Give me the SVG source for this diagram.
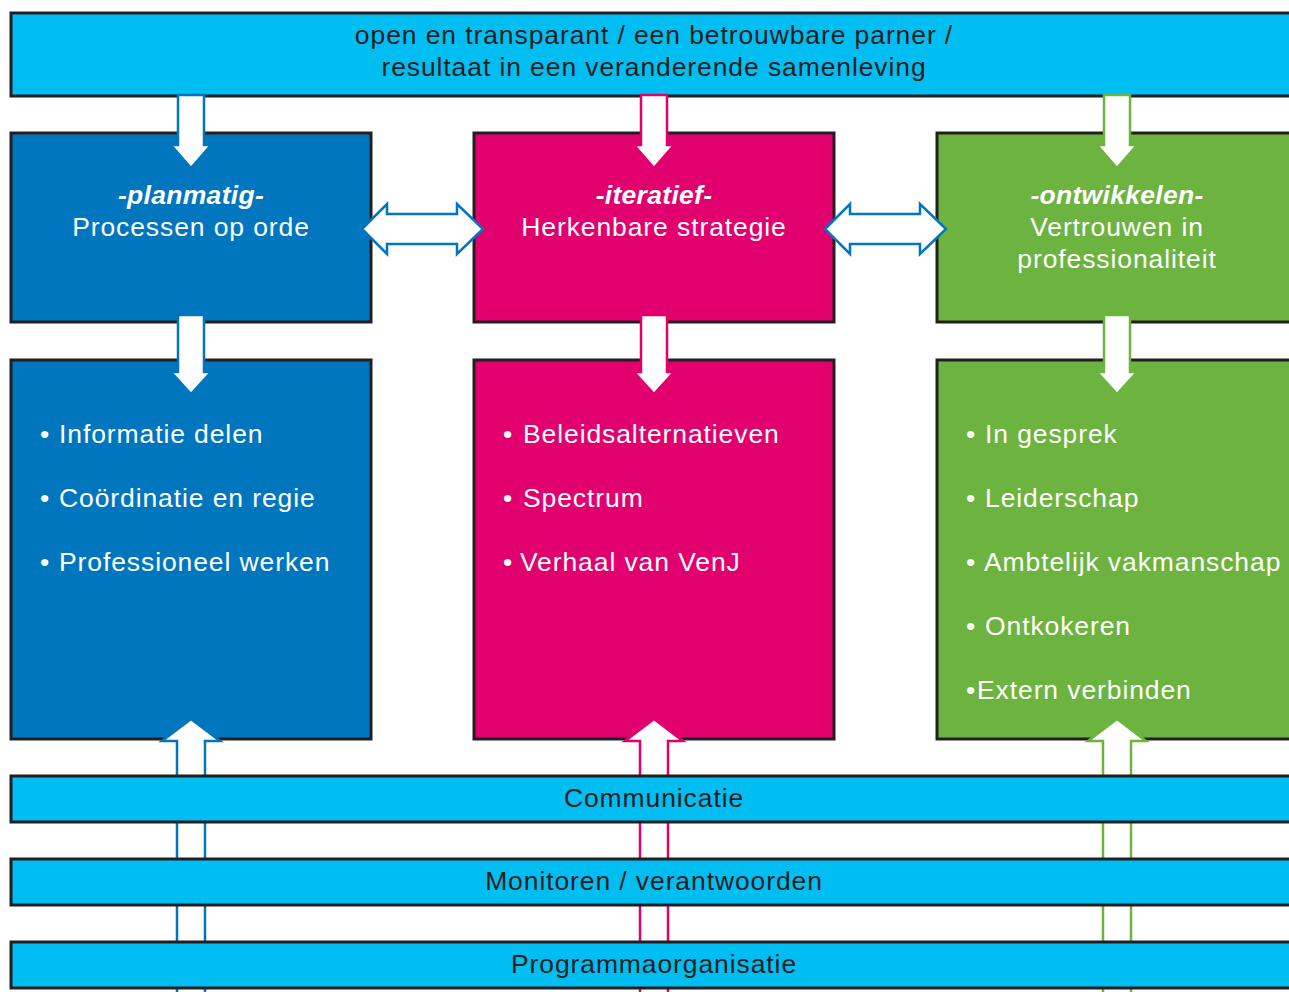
<svg xmlns="http://www.w3.org/2000/svg" width="1289" height="992" viewBox="0 0 1289 992">
<style>
.box{stroke:#231f20;stroke-width:3}
.cyan{fill:#00bdf2}
.blue{fill:#0076be}
.pink{fill:#e2006f}
.green{fill:#6db33f}
.t{font-family:"Liberation Sans",Arial,sans-serif;font-size:26.5px;letter-spacing:0.9px}
.dark{fill:#231f20}
.w{fill:#ffffff}
.c{text-anchor:middle}
.bi{font-weight:bold;font-style:italic;letter-spacing:0.3px}
.arr{fill:#ffffff;stroke-width:2.5;stroke-linejoin:miter}
</style>
<rect width="1289" height="992" fill="#ffffff"/>
<g id="top">
<rect class="box cyan" x="11" y="13" width="1290" height="83"/>
<text class="t dark c" x="654" y="44">open en transparant / een betrouwbare parner /</text>
<text class="t dark c" x="654" y="76">resultaat in een veranderende samenleving</text>
</g>
<g id="planmatig">
<rect class="box blue" x="11" y="133" width="360" height="189"/>
<text class="t w c bi" x="191" y="204">-planmatig-</text>
<text class="t w c" x="191" y="236">Processen op orde</text>
</g>
<g id="iteratief">
<rect class="box pink" x="474" y="133" width="360" height="189"/>
<text class="t w c bi" x="654" y="204">-iteratief-</text>
<text class="t w c" x="654" y="236">Herkenbare strategie</text>
</g>
<g id="ontwikkelen">
<rect class="box green" x="937" y="133" width="360" height="189"/>
<text class="t w c bi" x="1117" y="204">-ontwikkelen-</text>
<text class="t w c" x="1117" y="236">Vertrouwen in</text>
<text class="t w c" x="1117" y="268">professionaliteit</text>
</g>
<g id="planmatig-list">
<rect class="box blue" x="11" y="360" width="360" height="379"/>
<text class="t w"><tspan x="40" y="443">•</tspan><tspan x="59" y="443">Informatie delen</tspan></text>
<text class="t w"><tspan x="40" y="507">•</tspan><tspan x="59" y="507">Coördinatie en regie</tspan></text>
<text class="t w"><tspan x="40" y="571">•</tspan><tspan x="59" y="571">Professioneel werken</tspan></text>
</g>
<g id="iteratief-list">
<rect class="box pink" x="474" y="360" width="360" height="379"/>
<text class="t w"><tspan x="503" y="443">•</tspan><tspan x="523" y="443">Beleidsalternatieven</tspan></text>
<text class="t w"><tspan x="503" y="507">•</tspan><tspan x="523" y="507">Spectrum</tspan></text>
<text class="t w"><tspan x="503" y="571">•</tspan><tspan x="520" y="571">Verhaal van VenJ</tspan></text>
</g>
<g id="ontwikkelen-list">
<rect class="box green" x="937" y="360" width="360" height="379"/>
<text class="t w"><tspan x="966" y="443">•</tspan><tspan x="985" y="443">In gesprek</tspan></text>
<text class="t w"><tspan x="966" y="507">•</tspan><tspan x="985" y="507">Leiderschap</tspan></text>
<text class="t w"><tspan x="966" y="571">•</tspan><tspan x="984" y="571">Ambtelijk vakmanschap</tspan></text>
<text class="t w"><tspan x="966" y="635">•</tspan><tspan x="985" y="635">Ontkokeren</tspan></text>
<text class="t w"><tspan x="966" y="699">•</tspan><tspan x="977" y="699">Extern verbinden</tspan></text>
</g>
<g id="connectors">
<polygon class="arr" stroke="#0076be" points="178,95 204,95 204,145 211,145 191,168 171,145 178,145"/>
<polygon class="arr" stroke="#e2006f" points="641,95 667,95 667,145 674,145 654,168 634,145 641,145"/>
<polygon class="arr" stroke="#6db33f" points="1104,95 1130,95 1130,145 1137,145 1117,168 1097,145 1104,145"/>
<polygon class="arr" stroke="#0076be" points="178,315 204,315 204,372 211,372 191,394 171,372 178,372"/>
<polygon class="arr" stroke="#e2006f" points="641,315 667,315 667,372 674,372 654,394 634,372 641,372"/>
<polygon class="arr" stroke="#6db33f" points="1104,315 1130,315 1130,372 1137,372 1117,394 1097,372 1104,372"/>
<polygon class="arr" stroke="#0076be" points="362,229 387,204 387,214 457,214 457,204 483,229 457,254 457,244 387,244 387,254"/>
<polygon class="arr" stroke="#0076be" points="825,229 850,204 850,214 920,214 920,204 946,229 920,254 920,244 850,244 850,254"/>
<polygon class="arr" stroke="#0076be" points="191,719 220,741 205,741 205,1000 177,1000 177,741 162,741"/>
<polygon class="arr" stroke="#e2006f" points="654,719 683,741 668,741 668,1000 640,1000 640,741 625,741"/>
<polygon class="arr" stroke="#6db33f" points="1117,719 1146,741 1131,741 1131,1000 1103,1000 1103,741 1088,741"/>
</g>
<g id="communicatie">
<rect class="box cyan" x="11" y="776" width="1290" height="46"/>
<text class="t dark c" x="654" y="807">Communicatie</text>
</g>
<g id="monitoren">
<rect class="box cyan" x="11" y="859" width="1290" height="46"/>
<text class="t dark c" x="654" y="890">Monitoren / verantwoorden</text>
</g>
<g id="programmaorganisatie">
<rect class="box cyan" x="11" y="942" width="1290" height="46"/>
<text class="t dark c" x="654" y="973">Programmaorganisatie</text>
</g>
</svg>
